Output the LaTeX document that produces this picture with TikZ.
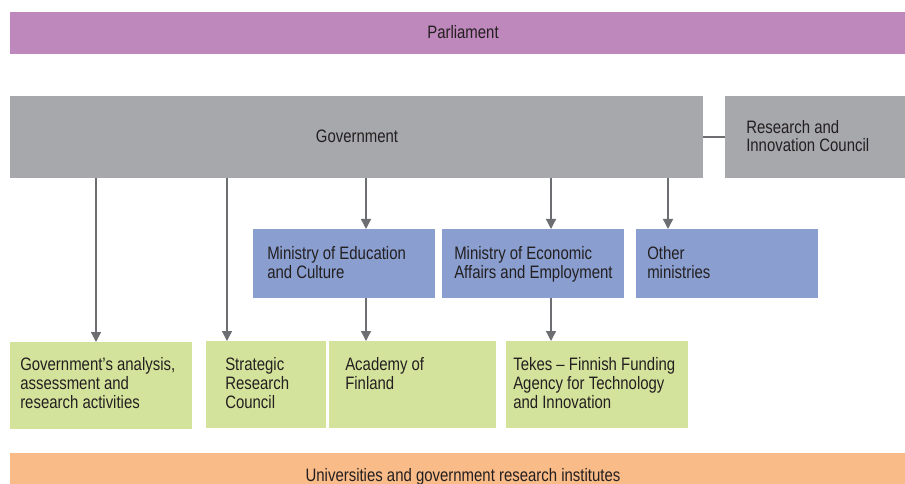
\documentclass[tikz,border=0pt]{standalone}
\usepackage{fontspec}
\setmainfont{Liberation Sans}[FakeStretch=0.83]
\usetikzlibrary{arrows.meta,fit}
\definecolor{cparl}{HTML}{BF88BD}
\definecolor{cgov}{HTML}{A7A8AB}
\definecolor{cmin}{HTML}{8A9FD0}
\definecolor{cgreen}{HTML}{D4E39B}
\definecolor{corange}{HTML}{F9BB87}
\definecolor{carrow}{HTML}{6D6E71}
\definecolor{ctext}{HTML}{231F20}
\begin{document}
\begin{tikzpicture}[x=0.75pt,y=-0.75pt,
  box/.style={inner sep=0pt,outer sep=0pt,draw=none},
  txt/.style={inner sep=0pt,align=left,text=ctext,font=\fontsize{13.5pt}{14pt}\selectfont},
  arr/.style={draw=carrow,line width=1pt,-{Triangle[width=7.5pt,length=7.5pt]}},
  link/.style={draw=carrow,line width=1pt}]
\useasboundingbox (0,0) rectangle (905,484);
% boxes
\node[box,fill=cparl,fit={(10,12) (905,54)}] (parl) {};
\node[box,fill=cgov,fit={(10,96) (703,178)}] (gov) {};
\node[box,fill=cgov,fit={(725,96) (905,178)}] (ric) {};
\node[box,fill=cmin,fit={(253,229) (435,298)}] (mined) {};
\node[box,fill=cmin,fit={(442,229) (624,298)}] (econ) {};
\node[box,fill=cmin,fit={(636,229) (818,298)}] (other) {};
\node[box,fill=cgreen,fit={(10,342) (192,429)}] (analysis) {};
\node[box,fill=cgreen,fit={(206,341) (326,428)}] (src) {};
\node[box,fill=cgreen,fit={(329,341) (496,428)}] (aka) {};
\node[box,fill=cgreen,fit={(506,341) (688,428)}] (tekes) {};
\node[box,fill=corange,fit={(10,453) (905,484)}] (univ) {};
% texts (base anchor = baseline of the last line)
\node[txt,anchor=base] (tparl) at (463,39) {Parliament};
\node[txt,anchor=base] (tgov) at (357,143) {Government};
\node[txt,anchor=base west] (tric) at (746,152) {Research and\\Innovation Council};
\node[txt,anchor=base west] (tmined) at (267,278) {Ministry of Education\\and Culture};
\node[txt,anchor=base west] (tecon) at (454,278) {Ministry of Economic\\Affairs and Employment};
\node[txt,anchor=base west] (tother) at (647,278) {Other\\ministries};
\node[txt,anchor=base west] (tanalysis) at (20,408) {Government’s analysis,\\assessment and\\research activities};
\node[txt,anchor=base west] (tsrc) at (225,408) {Strategic\\Research\\Council};
\node[txt,anchor=base west] (taka) at (345,389) {Academy of\\Finland};
\node[txt,anchor=base west] (ttekes) at (513,408) {Tekes – Finnish Funding\\Agency for Technology\\and Innovation};
\node[txt,anchor=base] (tuniv) at (463,481) {Universities and government research institutes};
% connector x positions
\coordinate (x1) at (96,0);
\coordinate (x2) at (227,0);
\coordinate (x3) at (366,0);
\coordinate (x4) at (551,0);
\coordinate (x5) at (668,0);
% connectors
\draw[link] (gov.east) -- (ric.west);
\draw[arr] (gov.south -| x1) -- (analysis.north -| x1);
\draw[arr] (gov.south -| x2) -- (src.north -| x2);
\draw[arr] (gov.south -| x3) -- (mined.north -| x3);
\draw[arr] (gov.south -| x4) -- (econ.north -| x4);
\draw[arr] (gov.south -| x5) -- (other.north -| x5);
\draw[arr] (mined.south -| x3) -- (aka.north -| x3);
\draw[arr] (econ.south -| x4) -- (tekes.north -| x4);
\end{tikzpicture}
\end{document}
